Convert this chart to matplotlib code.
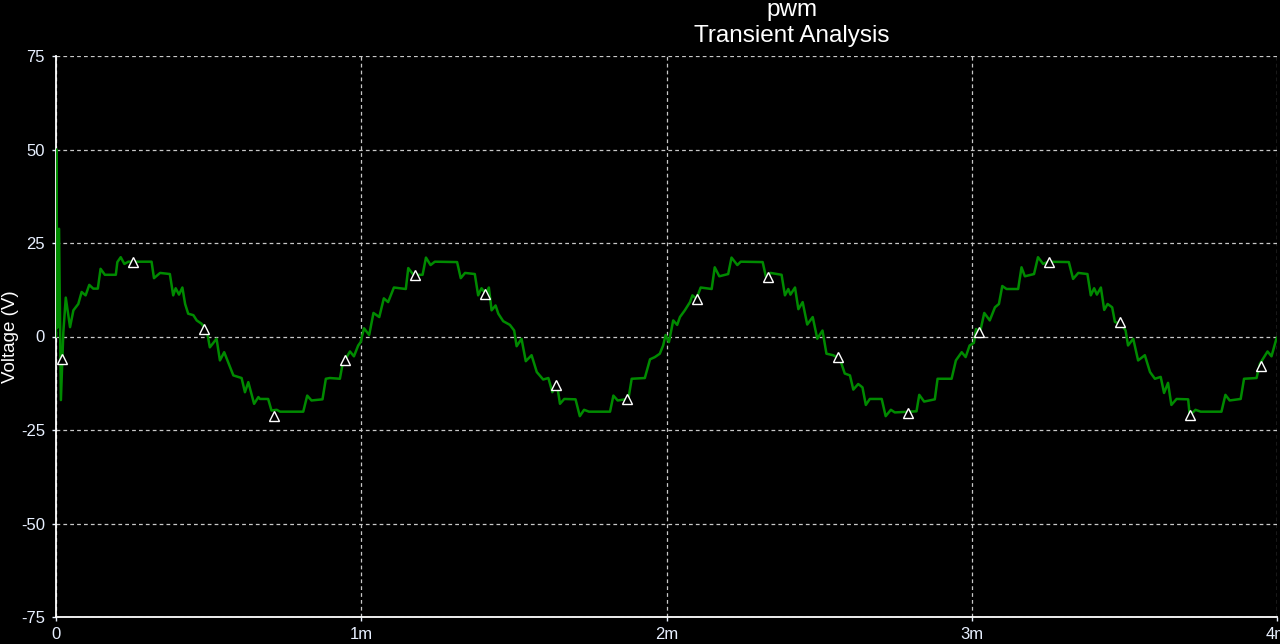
import numpy as np
import matplotlib.pyplot as plt
from matplotlib.ticker import FixedLocator, FixedFormatter

# waveform breakpoints, time in ms, voltage in V
t_ms = [0.000, 0.001, 0.005, 0.010, 0.016, 0.024, 0.032, 0.046, 0.057, 0.073,
        0.084, 0.097, 0.109, 0.122, 0.137, 0.146, 0.160, 0.196, 0.201, 0.212,
        0.224, 0.237, 0.313, 0.321, 0.341, 0.373, 0.384, 0.392, 0.403, 0.414,
        0.423, 0.433, 0.450, 0.461, 0.477, 0.494, 0.504, 0.526, 0.537, 0.551,
        0.581, 0.608, 0.619, 0.630, 0.649, 0.663, 0.668, 0.695, 0.706, 0.723,
        0.734, 0.810, 0.823, 0.837, 0.873, 0.884, 0.897, 0.930, 0.939, 0.963,
        0.976, 0.990, 0.998, 1.009, 1.026, 1.040, 1.059, 1.074, 1.088, 1.107,
        1.146, 1.154, 1.171, 1.201, 1.212, 1.227, 1.241, 1.314, 1.326, 1.340,
        1.372, 1.383, 1.394, 1.408, 1.418, 1.427, 1.440, 1.449, 1.465, 1.487,
        1.501, 1.509, 1.525, 1.539, 1.558, 1.575, 1.596, 1.613, 1.626, 1.640,
        1.651, 1.665, 1.702, 1.716, 1.730, 1.746, 1.815, 1.826, 1.840, 1.875,
        1.886, 1.929, 1.946, 1.962, 1.978, 1.989, 1.997, 2.008, 2.022, 2.035,
        2.044, 2.060, 2.077, 2.085, 2.098, 2.112, 2.148, 2.158, 2.173, 2.202,
        2.213, 2.232, 2.243, 2.315, 2.326, 2.341, 2.377, 2.388, 2.399, 2.406,
        2.421, 2.432, 2.446, 2.461, 2.479, 2.494, 2.511, 2.524, 2.546, 2.568,
        2.584, 2.601, 2.612, 2.628, 2.642, 2.653, 2.666, 2.705, 2.718, 2.735,
        2.748, 2.819, 2.828, 2.844, 2.879, 2.888, 2.934, 2.948, 2.967, 2.980,
        2.993, 3.007, 3.014, 3.027, 3.041, 3.059, 3.076, 3.089, 3.100, 3.114,
        3.152, 3.163, 3.174, 3.204, 3.217, 3.234, 3.250, 3.318, 3.332, 3.349,
        3.379, 3.390, 3.401, 3.410, 3.423, 3.434, 3.445, 3.460, 3.469, 3.491,
        3.504, 3.512, 3.529, 3.545, 3.567, 3.584, 3.600, 3.619, 3.630, 3.643,
        3.654, 3.671, 3.709, 3.714, 3.733, 3.750, 3.818, 3.831, 3.845, 3.881,
        3.892, 3.933, 3.944, 3.969, 3.982, 3.998, 4.006]
v_out = [0.0, 50.0, 2.4, 28.8, -17.0, 1.1, 10.4, 2.5, 7.0, 8.7,
         11.9, 11.0, 13.8, 12.8, 12.8, 18.1, 16.5, 16.5, 19.9, 21.2,
         19.4, 20.0, 20.0, 15.6, 17.0, 16.7, 11.0, 12.9, 11.2, 13.1,
         8.7, 6.1, 5.7, 4.3, 3.4, 1.6, -2.9, -0.6, -6.4, -4.2,
         -10.4, -11.1, -14.9, -12.2, -18.0, -16.2, -16.7, -16.7, -19.8, -19.6,
         -20.1, -20.1, -15.8, -17.1, -16.8, -11.3, -11.1, -11.3, -7.3, -4.0,
         -5.3, -2.4, -1.5, 2.2, 0.4, 6.3, 5.2, 10.2, 9.2, 13.1,
         12.7, 18.3, 16.5, 16.5, 21.1, 19.1, 20.0, 19.9, 15.6, 17.0,
         16.7, 11.0, 12.9, 11.4, 13.1, 7.0, 8.3, 6.1, 4.1, 3.1,
         1.6, -2.6, -0.6, -6.6, -5.0, -9.5, -11.5, -11.1, -14.9, -12.2,
         -18.0, -16.7, -16.8, -21.3, -19.6, -20.1, -20.1, -15.8, -17.1, -16.7,
         -11.3, -11.1, -6.1, -5.5, -4.6, -2.4, 0.4, -1.5, 4.3, 3.1,
         5.2, 7.0, 9.2, 11.0, 10.1, 13.1, 12.7, 18.5, 16.1, 16.7,
         21.1, 19.1, 20.0, 19.9, 15.9, 17.0, 16.5, 11.0, 12.7, 11.2,
         13.1, 7.3, 9.2, 3.2, 5.2, -0.6, 1.6, -4.6, -5.0, -6.0,
         -9.9, -10.4, -14.2, -12.7, -13.6, -18.3, -16.7, -16.7, -21.3, -19.6,
         -20.3, -20.0, -15.6, -17.4, -16.8, -11.3, -11.3, -6.4, -4.2, -5.5,
         -2.4, -1.7, 2.0, 1.1, 6.3, 4.3, 7.8, 8.7, 13.5, 12.7,
         12.7, 18.5, 16.1, 16.7, 21.2, 19.4, 20.0, 19.9, 15.4, 17.0,
         16.7, 11.0, 12.9, 11.2, 13.1, 7.1, 8.7, 7.8, 3.9, 3.2,
         1.6, -2.4, -0.6, -6.4, -5.0, -9.5, -11.3, -10.8, -15.1, -12.4,
         -18.3, -16.7, -16.8, -21.1, -19.6, -20.1, -20.1, -15.6, -17.1, -16.7,
         -11.3, -11.1, -7.3, -4.0, -5.3, -0.6, 0.4]

# probe markers along the trace
mark_t = [0.020, 0.251, 0.485, 0.714, 0.947, 1.176, 1.407, 1.638, 1.869,
          2.100, 2.331, 2.562, 2.792, 3.024, 3.254, 3.485, 3.716, 3.949]
mark_v = [-6.0, 19.9, 1.9, -21.3, -6.2, 16.5, 11.4, -12.9, -16.8,
          10.1, 15.8, -5.5, -20.4, 1.2, 20.0, 4.0, -21.1, -7.9]

x_ticks = [0, 1, 2, 3, 4]
x_labels = ['0', '1m', '2m', '3m', '4m']
y_ticks = [-75, -50, -25, 0, 25, 50, 75]

plt.rcParams['font.family'] = ['Liberation Sans', 'DejaVu Sans']
plt.rcParams['axes.unicode_minus'] = False

fig = plt.figure(figsize=(12.8, 6.44), dpi=100, facecolor='black')
ax = fig.add_axes([56/1280, 27/644, (1277-56)/1280, (617-56)/644])
ax.set_facecolor('black')

ax.plot(t_ms, v_out, color='#008a00', lw=1.8, zorder=3)
ax.plot(mark_t, mark_v, ls='none', marker='^', ms=6.5, mfc='black',
        mec='white', mew=1.0, zorder=4)

ax.set_xlim(0, 4)
ax.set_ylim(-75, 75)
ax.xaxis.set_major_locator(FixedLocator(x_ticks))
ax.xaxis.set_major_formatter(FixedFormatter(x_labels))
ax.set_yticks(y_ticks)

ax.grid(True, color='#c8c8c8', ls=(0, (3, 2.5)), lw=0.9)
for s in ['top', 'right']:
    ax.spines[s].set_visible(False)
for s in ['left', 'bottom']:
    ax.spines[s].set_color('white')
    ax.spines[s].set_linewidth(1.3)
ax.tick_params(colors='#e8f0ff', labelsize=12, length=3, width=1)
ax.tick_params(axis='x', pad=4)
ax.tick_params(axis='y', pad=5)

ax.set_ylabel('Voltage (V)', color='white', fontsize=13.5)
ax.yaxis.set_label_coords((19 - 56) / 1221, 0.5)

fig.text(792/1280, 1 - 10/644, 'pwm', color='white', fontsize=17.5,
         ha='center', va='center')
fig.text(792/1280, 1 - 36/644, 'Transient Analysis', color='white',
         fontsize=17.5, ha='center', va='center')

fig.savefig('out.png', dpi=100, facecolor='black')
